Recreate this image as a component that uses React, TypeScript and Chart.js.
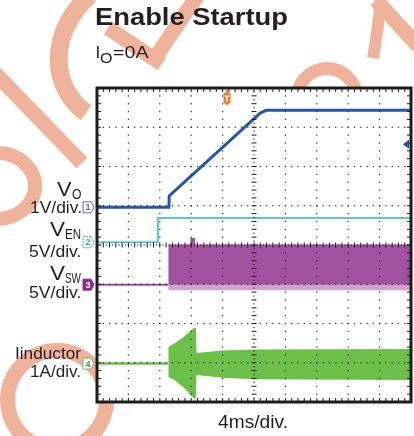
import React, { useEffect, useRef } from "react";
import { Chart, registerables } from "chart.js";

Chart.register(...registerables);

// Screen is 10 horizontal divisions (4 ms/div) by 8 vertical divisions.
const xDivisions = 10;
const yDivisions = 8;

// V_O (channel 1), in screen divisions
const voTime = [0, 2.29, 2.3, 5.03, 5.2, 5.38, 10];
const voLevel = [4.96, 4.96, 5.25, 7.24, 7.36, 7.43, 7.43];

// V_EN (channel 2)
const venTime = [0, 1.94, 1.94, 10];
const venLevel = [4.07, 4.07, 4.69, 4.69];

// V_SW (channel 3)
const vswBaseTime = [0, 2.27];
const vswBaseLevel = [2.99, 2.99];
const vswBandTime = [2.27, 10];
const vswBandHigh = [4.01, 4.01];
const vswBandLow = [2.99, 2.99];
const vswFringeLow = [2.85, 2.85];
const vswSpikeTime = [3.05, 3.05];
const vswSpikeLevel = [4.0, 4.18];

// I inductor (channel 4)
const iBaseTime = [0, 2.27];
const iBaseLevel = [0.98, 0.98];
const iEnvTime = [2.27, 2.46, 2.77, 3.09, 3.15, 3.17, 4, 5, 10];
const iEnvHigh = [1.4, 1.49, 1.66, 1.89, 1.89, 1.25, 1.31, 1.34, 1.35];
const iEnvLow = [0.64, 0.56, 0.36, 0.09, 0.09, 0.69, 0.62, 0.58, 0.56];

// channel ground markers and trigger
const channelNames = ["1", "2", "3", "4"];
const channelLevels = [4.96, 4.07, 2.99, 0.98];
const triggerTime = 4.14;
const triggerLevel = 6.57;

const BLUE = "#2457a8";
const CYAN = "#5cc6d0";
const PURPLE = "#a1529f";
const PURPLE_LIGHT = "#cfa2cd";
const GREEN = "#6cc04a";
const WATER = "#efb29b";

const pts = (t: number[], v: number[]) => t.map((x, i) => ({ x, y: v[i] }));

function drawWatermark(ctx: CanvasRenderingContext2D) {
  ctx.save();
  ctx.strokeStyle = WATER;
  ctx.lineCap = "butt";
  // big C arc
  ctx.lineWidth = 18;
  ctx.beginPath();
  ctx.moveTo(90, -5);
  ctx.bezierCurveTo(50, 30, 48, 85, 86, 113);
  ctx.stroke();
  // chevron behind subtitle
  ctx.lineWidth = 15;
  ctx.beginPath();
  ctx.moveTo(200, -8);
  ctx.lineTo(152, 62);
  ctx.stroke();
  ctx.beginPath();
  ctx.moveTo(108, 28);
  ctx.lineTo(162, 64);
  ctx.stroke();
  // diagonal bar
  ctx.lineWidth = 15;
  ctx.beginPath();
  ctx.moveTo(-8, 70);
  ctx.lineTo(82, 163);
  ctx.stroke();
  // left ring
  ctx.lineWidth = 14;
  ctx.beginPath();
  ctx.ellipse(-3, 186, 38, 33, 0, 0, Math.PI * 2);
  ctx.stroke();
  // bottom ring
  ctx.lineWidth = 15;
  ctx.beginPath();
  ctx.arc(57, 400, 49.5, 0, Math.PI * 2);
  ctx.stroke();
  // top right ring
  ctx.lineWidth = 13;
  ctx.beginPath();
  ctx.arc(327, 98, 29.5, 0, Math.PI * 2);
  ctx.stroke();
  // top right lambda
  ctx.lineWidth = 12;
  ctx.beginPath();
  ctx.moveTo(381, -3);
  ctx.quadraticCurveTo(378, 30, 373, 58);
  ctx.stroke();
  ctx.lineWidth = 15;
  ctx.beginPath();
  ctx.moveTo(376, 0);
  ctx.lineTo(418, 46);
  ctx.stroke();
  ctx.restore();
}

const scopePlugin = {
  id: "scope",
  beforeDraw(chart: any) {
    const ctx: CanvasRenderingContext2D = chart.ctx;
    const a = chart.chartArea;
    ctx.save();
    ctx.fillStyle = "#ffffff";
    ctx.fillRect(0, 0, chart.width, chart.height);
    drawWatermark(ctx);
    ctx.fillStyle = "#ffffff";
    ctx.fillRect(a.left, a.top, a.right - a.left, a.bottom - a.top);
    ctx.restore();
  },
  afterDatasetsDraw(chart: any) {
    const ctx: CanvasRenderingContext2D = chart.ctx;
    const a = chart.chartArea;
    const xs = chart.scales.x;
    const ys = chart.scales.y;
    ctx.save();
    // dotted graticule
    ctx.fillStyle = "#2a2a2a";
    for (let i = 1; i < xDivisions; i++) {
      if (i === xDivisions / 2) continue;
      const px = xs.getPixelForValue(i);
      for (let m = 1; m < yDivisions * 5; m++) {
        const py = ys.getPixelForValue(m / 5);
        ctx.fillRect(px - 0.6, py - 0.6, 1.2, 1.3);
      }
    }
    for (let j = 1; j < yDivisions; j++) {
      if (j === yDivisions / 2) continue;
      const py = ys.getPixelForValue(j);
      for (let m = 1; m < xDivisions * 5; m++) {
        const px = xs.getPixelForValue(m / 5);
        ctx.fillRect(px - 0.6, py - 0.6, 1.3, 1.2);
      }
    }
    // centre cross with ruler ticks
    ctx.strokeStyle = "#1a1a1a";
    ctx.lineWidth = 1;
    const cx = xs.getPixelForValue(xDivisions / 2);
    const cy = ys.getPixelForValue(yDivisions / 2);
    for (let m = 1; m < yDivisions * 10; m++) {
      const py = ys.getPixelForValue(m / 10);
      if (m % 2 === 0) {
        ctx.beginPath();
        ctx.moveTo(cx - 2.5, py);
        ctx.lineTo(cx + 2.5, py);
        ctx.stroke();
      } else {
        ctx.fillRect(cx - 0.6, py - 0.6, 1.2, 1.2);
      }
    }
    for (let m = 1; m < xDivisions * 10; m++) {
      const px = xs.getPixelForValue(m / 10);
      if (m % 2 === 0) {
        ctx.beginPath();
        ctx.moveTo(px, cy - 2.5);
        ctx.lineTo(px, cy + 2.5);
        ctx.stroke();
      } else {
        ctx.fillRect(px - 0.6, cy - 0.6, 1.2, 1.2);
      }
    }
    // edge ticks
    for (let m = 1; m < xDivisions * 5; m++) {
      const px = xs.getPixelForValue(m / 5);
      ctx.beginPath();
      ctx.moveTo(px, a.top);
      ctx.lineTo(px, a.top + 4);
      ctx.moveTo(px, a.bottom);
      ctx.lineTo(px, a.bottom - 4);
      ctx.stroke();
    }
    for (let m = 1; m < yDivisions * 5; m++) {
      const py = ys.getPixelForValue(m / 5);
      ctx.beginPath();
      ctx.moveTo(a.left, py);
      ctx.lineTo(a.left + 4, py);
      ctx.moveTo(a.right, py);
      ctx.lineTo(a.right - 4, py);
      ctx.stroke();
    }
    // frame
    ctx.lineWidth = 3;
    ctx.strokeStyle = "#1c1c1c";
    ctx.strokeRect(a.left, a.top, a.right - a.left, a.bottom - a.top);

    // trigger position marker
    const tx = xs.getPixelForValue(triggerTime);
    const tt = a.top;
    ctx.fillStyle = "#f47b20";
    ctx.fillRect(tx - 1, tt + 1, 2, 5);
    ctx.beginPath();
    ctx.moveTo(tx - 3.5, tt + 5);
    ctx.lineTo(tx + 3.5, tt + 5);
    ctx.lineTo(tx + 3.5, tt + 14.5);
    ctx.lineTo(tx, tt + 17.5);
    ctx.lineTo(tx - 3.5, tt + 14.5);
    ctx.closePath();
    ctx.fill();
    ctx.fillStyle = "#ffffff";
    ctx.fillRect(tx - 2.4, tt + 7.5, 4.8, 1.3);
    ctx.fillRect(tx - 0.65, tt + 7.5, 1.3, 6.5);

    // trigger level marker
    const ly = ys.getPixelForValue(triggerLevel);
    ctx.fillStyle = "#2b3f8f";
    ctx.beginPath();
    ctx.moveTo(a.right - 8, ly);
    ctx.lineTo(a.right - 3.5, ly - 3.5);
    ctx.lineTo(a.right - 3.5, ly + 3.5);
    ctx.closePath();
    ctx.fill();
    ctx.fillRect(a.right - 3.5, ly - 4, 1.5, 8);

    // channel ground markers
    const styles = [
      { stroke: "#6262c4", fill: "#ffffff", text: "#6262c4", dash: [] as number[] },
      { stroke: "#2ea6a6", fill: "#ffffff", text: "#2ea6a6", dash: [2, 1] },
      { stroke: "#8a2a8a", fill: "#8a2a8a", text: "#ffffff", dash: [] as number[] },
      { stroke: "#3ea03e", fill: "#ffffff", text: "#3ea03e", dash: [2, 1] },
    ];
    channelLevels.forEach((lv, k) => {
      const py = ys.getPixelForValue(lv);
      const lx = a.left - 14;
      const s = styles[k];
      ctx.beginPath();
      ctx.moveTo(lx, py - 5.5);
      ctx.lineTo(lx + 8, py - 5.5);
      ctx.lineTo(lx + 11, py);
      ctx.lineTo(lx + 8, py + 5.5);
      ctx.lineTo(lx, py + 5.5);
      ctx.closePath();
      ctx.fillStyle = s.fill;
      ctx.fill();
      ctx.setLineDash(s.dash);
      ctx.lineWidth = 1;
      ctx.strokeStyle = s.stroke;
      ctx.stroke();
      ctx.setLineDash([]);
      ctx.fillStyle = s.text;
      ctx.font = "bold 9px 'Liberation Sans', Arial, sans-serif";
      ctx.textAlign = "center";
      ctx.textBaseline = "middle";
      ctx.fillText(channelNames[k], lx + 5, py + 0.5);
    });
    ctx.restore();
  },
};

const FONT = "'Liberation Sans', Arial, Helvetica, sans-serif";

type Piece = { t: string; x: number; y: number; s: number; w?: number; b?: boolean };
const labels: Piece[] = [
  { t: "Enable Startup", x: 95, y: 25, s: 23.5, w: 193, b: true },
  { t: "I", x: 95.5, y: 58, s: 17 },
  { t: "O", x: 100, y: 63, s: 14, w: 12.5 },
  { t: "=0A", x: 113, y: 58, s: 17, w: 35.5 },
  { t: "V", x: 57, y: 196, s: 20, w: 14.5 },
  { t: "O", x: 72, y: 199, s: 14, w: 9.5 },
  { t: "1V/div.", x: 30, y: 213, s: 17, w: 52 },
  { t: "V", x: 50, y: 235.5, s: 20, w: 15 },
  { t: "EN", x: 65, y: 238.5, s: 14, w: 16 },
  { t: "5V/div.", x: 29, y: 256.5, s: 17, w: 52.5 },
  { t: "V", x: 50, y: 280, s: 20, w: 15 },
  { t: "SW", x: 65, y: 283, s: 14, w: 16 },
  { t: "5V/div.", x: 29, y: 298, s: 17, w: 52.5 },
  { t: "Iinductor", x: 15, y: 358.5, s: 17, w: 66 },
  { t: "1A/div.", x: 30, y: 377, s: 17, w: 51 },
  { t: "4ms/div.", x: 218, y: 427.5, s: 17.5, w: 70 },
];

export default function App() {
  const ref = useRef<HTMLCanvasElement | null>(null);
  useEffect(() => {
    if (!ref.current) return;
    const line = (data: any[], color: string, width: number, extra: any = {}) => ({
      data,
      borderColor: color,
      backgroundColor: color,
      borderWidth: width,
      pointRadius: 0,
      tension: 0,
      fill: false,
      ...extra,
    });
    const chart = new Chart(ref.current, {
      type: "line",
      data: {
        datasets: [
          line(pts(vswBandTime, vswBandHigh), PURPLE, 0, { fill: "+1", backgroundColor: PURPLE }),
          line(pts(vswBandTime, vswBandLow), PURPLE, 0, { fill: "+1", backgroundColor: PURPLE_LIGHT }),
          line(pts(vswBandTime, vswFringeLow), PURPLE_LIGHT, 0),
          line(pts(vswBaseTime, vswBaseLevel), PURPLE, 2),
          line(pts(vswSpikeTime, vswSpikeLevel), PURPLE, 5, { borderCapStyle: "butt" }),
          line(pts(iEnvTime, iEnvHigh), GREEN, 0, { fill: "+1", backgroundColor: GREEN }),
          line(pts(iEnvTime, iEnvLow), GREEN, 0),
          line(pts(iBaseTime, iBaseLevel), GREEN, 2.5),
          line(pts(venTime, venLevel), CYAN, 2),
          line(pts(voTime, voLevel), BLUE, 3),
        ],
      },
      options: {
        animation: false,
        responsive: false,
        maintainAspectRatio: false,
        layout: { padding: { left: 97, top: 88, right: 3, bottom: 34 } },
        scales: {
          x: { type: "linear", min: 0, max: xDivisions, display: false },
          y: { type: "linear", min: 0, max: yDivisions, display: false },
        },
        plugins: { legend: { display: false }, tooltip: { enabled: false }, title: { display: false } },
        events: [],
      },
      plugins: [scopePlugin],
    } as any);
    return () => chart.destroy();
  }, []);

  return (
    <div style={{ position: "fixed", left: 0, top: 0, width: 414, height: 436, background: "#fff" }}>
      <canvas ref={ref} width={414} height={436} style={{ display: "block", width: 414, height: 436 }} />
      <svg
        width={414}
        height={436}
        style={{ position: "absolute", left: 0, top: 0, pointerEvents: "none" }}
      >
        {labels.map((p, i) => (
          <text
            key={i}
            x={p.x}
            y={p.y}
            fontFamily={FONT}
            fontSize={p.s}
            fontWeight={p.b ? "bold" : "normal"}
            fill="#231f20"
            {...(p.w ? { textLength: p.w, lengthAdjust: "spacingAndGlyphs" } : {})}
          >
            {p.t}
          </text>
        ))}
      </svg>
    </div>
  );
}
